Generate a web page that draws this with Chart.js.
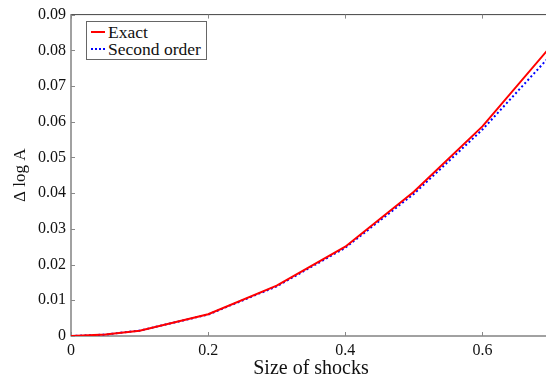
<!DOCTYPE html>
<html>
<head>
<meta charset="utf-8">
<script src="https://cdn.jsdelivr.net/npm/chart.js@4.4.1/dist/chart.umd.min.js"></script>
<style>
  html, body { margin: 0; padding: 0; background: #fff; overflow: hidden; }
  .wrap { position: relative; width: 552px; height: 381px; }
  .legend {
    position: absolute; left: 86px; top: 21px;
    background: #fff; border: 1px solid #666;
    padding: 2px 5px 2px 4px;
    font-family: "Liberation Serif", "DejaVu Serif", serif; font-size: 17.5px; line-height: 16.5px;
    color: #111;
  }
  .legend .row { display: flex; align-items: center; white-space: nowrap; }
  .legend .sw { width: 14px; height: 0; margin-right: 3px; }
  .legend .exact { border-top: 2px solid #ff0000; }
  .legend .second { border-top: 2px dotted #0000ff; }
</style>
</head>
<body>
<div class="wrap">
  <canvas id="chart" width="552" height="381"></canvas>
  <div class="legend">
    <div class="row"><span class="sw exact"></span>Exact</div>
    <div class="row"><span class="sw second"></span>Second order</div>
  </div>
</div>
<script>
// values
const shockSizes = [0, 0.05, 0.1, 0.2, 0.3, 0.4, 0.5, 0.6, 0.7];
const exactValues = [0, 0.0004, 0.0015, 0.0061, 0.0141, 0.0250, 0.0404, 0.0587, 0.0812];
const secondOrderValues = [0, 0.0004, 0.0015, 0.0060, 0.0139, 0.0247, 0.0398, 0.0578, 0.0787];

const xTicks = [0, 0.2, 0.4, 0.6];
const yTicks = [0, 0.01, 0.02, 0.03, 0.04, 0.05, 0.06, 0.07, 0.08, 0.09];

const serif = '"Liberation Serif", "DejaVu Serif", serif';

function toPoints(values) {
  return shockSizes.map((x, i) => ({ x: x, y: values[i] }));
}

// frame with inward ticks, like the original matlab style axes
const framePlugin = {
  id: 'frame',
  beforeDatasetsDraw(chart) {
    const { ctx, chartArea: a, scales } = chart;
    const len = 4;
    ctx.save();
    ctx.strokeStyle = '#444';
    ctx.lineWidth = 1;
    ctx.strokeRect(a.left, a.top, a.right - a.left, a.bottom - a.top);
    ctx.strokeStyle = '#888';
    ctx.beginPath();
    xTicks.forEach(v => {
      const px = Math.round(scales.x.getPixelForValue(v)) + 0.5;
      ctx.moveTo(px, a.bottom); ctx.lineTo(px, a.bottom - len);
      ctx.moveTo(px, a.top); ctx.lineTo(px, a.top + len);
    });
    yTicks.forEach(v => {
      const py = Math.round(scales.y.getPixelForValue(v)) + 0.5;
      ctx.moveTo(a.left, py); ctx.lineTo(a.left + len, py);
      ctx.moveTo(a.right, py); ctx.lineTo(a.right - len, py);
    });
    ctx.stroke();
    ctx.restore();
  }
};

const chart = new Chart(document.getElementById('chart'), {
  type: 'line',
  data: {
    datasets: [
      {
        label: 'Exact',
        data: toPoints(exactValues),
        borderColor: '#ff0000',
        borderWidth: 2,
        pointRadius: 0,
        tension: 0
      },
      {
        label: 'Second order',
        data: toPoints(secondOrderValues),
        borderColor: '#0000ff',
        borderWidth: 2,
        borderDash: [2, 2.5],
        pointRadius: 0,
        tension: 0
      }
    ]
  },
  options: {
    responsive: false,
    animation: false,
    layout: { padding: { top: 12, right: 1, left: 0, bottom: 0 } },
    plugins: {
      legend: { display: false },
      tooltip: { enabled: false }
    },
    scales: {
      x: {
        type: 'linear',
        min: 0,
        max: 0.7,
        afterBuildTicks: scale => { scale.ticks = xTicks.map(v => ({ value: v })); },
        afterFit: scale => { scale.height = 45; },
        grid: { display: false, drawTicks: false },
        border: { display: false },
        ticks: {
          padding: 5,
          color: '#111',
          font: { family: serif, size: 16 },
          maxRotation: 0,
          callback: v => String(+v.toFixed(2))
        },
        title: {
          display: true,
          text: 'Size of shocks',
          color: '#111',
          font: { family: serif, size: 20 },
          padding: { top: 0, bottom: 0 }
        }
      },
      y: {
        type: 'linear',
        min: 0,
        max: 0.09,
        afterBuildTicks: scale => { scale.ticks = yTicks.map(v => ({ value: v })); },
        afterFit: scale => { scale.width = 71; },
        grid: { display: false, drawTicks: false },
        border: { display: false },
        ticks: {
          padding: 5,
          color: '#111',
          font: { family: serif, size: 16 },
          callback: v => String(+v.toFixed(2))
        },
        title: {
          display: true,
          text: 'Δ log A',
          color: '#111',
          font: { family: serif, size: 17 },
          padding: { top: 10, bottom: 4 }
        }
      }
    }
  },
  plugins: [framePlugin]
});
</script>
</body>
</html>
